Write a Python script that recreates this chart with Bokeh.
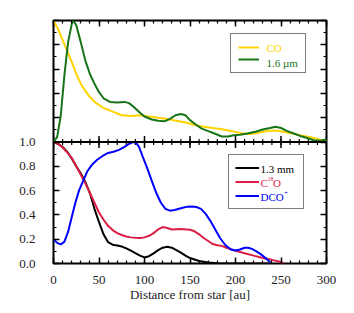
import math
from bokeh.plotting import figure
from bokeh.models import (Range1d, LinearAxis, Legend, LegendItem, Label, FixedTicker,
                          PrintfTickFormatter, Span)
from bokeh.embed import file_html
from bokeh.resources import INLINE

# ---- data ----
x_co = [0, 5, 10, 15, 20, 25, 30, 35, 40, 45, 55, 65, 75, 85, 95, 105, 115, 125, 135, 145,
        155, 165, 175, 185, 195, 205, 215, 225, 235, 245, 255, 265, 275, 285, 295, 300]
co = [1.0, 0.93, 0.84, 0.75, 0.66, 0.56, 0.48, 0.42, 0.37, 0.33, 0.28, 0.25, 0.22, 0.215, 0.22,
      0.21, 0.20, 0.19, 0.175, 0.16, 0.14, 0.125, 0.115, 0.105, 0.09, 0.075, 0.065, 0.075, 0.09,
      0.095, 0.08, 0.065, 0.05, 0.035, 0.015, 0.005]

x_h = [0, 4, 8, 12, 16, 20, 22, 25, 30, 35, 40, 45, 50, 55, 62, 70, 78, 83, 88, 95, 100, 108,
       115, 122, 128, 134, 140, 145, 150, 157, 163, 170, 177, 185, 192, 198, 205, 213, 222, 231,
       238, 244, 250, 257, 264, 271, 278, 286, 293, 300]
h = [0.0, 0.04, 0.22, 0.55, 0.82, 0.97, 1.0, 0.96, 0.82, 0.67, 0.56, 0.48, 0.41, 0.36, 0.33,
     0.325, 0.33, 0.32, 0.29, 0.24, 0.21, 0.185, 0.175, 0.17, 0.19, 0.22, 0.23, 0.22, 0.18, 0.14,
     0.11, 0.09, 0.07, 0.045, 0.045, 0.055, 0.06, 0.07, 0.085, 0.105, 0.115, 0.125, 0.115, 0.09,
     0.07, 0.05, 0.035, 0.015, 0.01, 0.02]

x_mm = [0, 5, 10, 15, 20, 25, 30, 35, 40, 45, 50, 55, 60, 65, 70, 75, 80, 85, 90, 95, 100, 105,
        110, 115, 120, 125, 130, 135, 140, 145, 150, 160, 170, 180, 200, 220, 240]
mm = [1.0, 0.985, 0.96, 0.92, 0.865, 0.8, 0.74, 0.67, 0.58, 0.45, 0.34, 0.24, 0.175, 0.155,
      0.148, 0.14, 0.125, 0.105, 0.085, 0.065, 0.05, 0.06, 0.083, 0.11, 0.13, 0.138, 0.13, 0.11,
      0.09, 0.065, 0.045, 0.02, 0.008, 0.003, 0.0, 0.0, 0.0]

x_c18o = [0, 5, 10, 15, 20, 25, 30, 35, 40, 45, 50, 55, 60, 65, 70, 75, 80, 85, 90, 95, 100,
          105, 110, 115, 120, 125, 130, 140, 150, 155, 160, 165, 170, 175, 180, 185, 190, 200,
          210, 220, 230, 240, 250, 253]
c18o = [1.0, 0.985, 0.955, 0.915, 0.87, 0.8, 0.73, 0.66, 0.58, 0.5, 0.42, 0.36, 0.31, 0.275,
        0.25, 0.235, 0.222, 0.215, 0.212, 0.21, 0.215, 0.228, 0.25, 0.28, 0.3, 0.292, 0.28,
        0.283, 0.278, 0.265, 0.24, 0.21, 0.185, 0.16, 0.15, 0.145, 0.13, 0.105, 0.085, 0.065,
        0.045, 0.03, 0.012, 0.0]

x_dco = [0, 4, 8, 12, 16, 20, 24, 28, 32, 37, 42, 48, 54, 60, 66, 72, 78, 82, 86, 88, 91, 94,
         98, 103, 108, 113, 118, 123, 128, 133, 140, 147, 152, 157, 162, 167, 172, 177, 183,
         189, 195, 200, 205, 210, 214, 218, 223, 228, 233, 238]
dco = [0.2, 0.17, 0.157, 0.18, 0.26, 0.38, 0.5, 0.6, 0.67, 0.757, 0.81, 0.854, 0.885, 0.91,
       0.92, 0.935, 0.96, 0.98, 0.995, 1.0, 0.99, 0.96, 0.88, 0.785, 0.68, 0.58, 0.5, 0.45,
       0.435, 0.44, 0.455, 0.468, 0.47, 0.465, 0.45, 0.41, 0.355, 0.29, 0.21, 0.15, 0.115,
       0.107, 0.115, 0.13, 0.13, 0.12, 0.1, 0.075, 0.045, 0.01]

# axis ticks: the lower panel spans 0..1, the upper panel sits on top of it (1..2)
x_ticks = [0, 50, 100, 150, 200, 250, 300]
x_minor = list(range(0, 301, 10))
y_ticks = [0.0, 0.2, 0.4, 0.6, 0.8, 1.0, 1.2, 1.4, 1.6, 1.8, 2.0]
y_labels = {0.0: "0.0", 0.2: "0.2", 0.4: "0.4", 0.6: "0.6", 0.8: "0.8", 1.0: "1.0",
            1.2: "", 1.4: "", 1.6: "", 1.8: "", 2.0: ""}
y_minor = [i / 10 for i in range(21)]

FONT = "Liberation Serif"
TXT = "#222222"
C_CO, C_H, C_MM, C_C18O, C_DCO = "#FFD200", "#177417", "#000000", "#DC1E46", "#0000FF"

FRAME_H = 243
p = figure(frame_width=273, frame_height=FRAME_H, output_backend="svg", toolbar_location=None,
           x_range=Range1d(0, 300), y_range=Range1d(0, 2),
           min_border_left=53, min_border_right=12, min_border_top=20, min_border_bottom=0)
p.extra_y_ranges = {"top": Range1d(-1, 1)}
p.xgrid.visible = False
p.ygrid.visible = False
p.outline_line_color = "black"
p.outline_line_width = 2
p.background_fill_color = "white"
p.border_fill_color = "white"
p.add_layout(LinearAxis(), "above")
p.add_layout(LinearAxis(), "right")

for ax in p.xaxis:
    ax.ticker = FixedTicker(ticks=x_ticks, minor_ticks=x_minor)
for ax in p.yaxis:
    ax.ticker = FixedTicker(ticks=y_ticks, minor_ticks=y_minor)
    ax.formatter = PrintfTickFormatter(format="%.1f")
for ax in p.axis:
    ax.major_tick_in = 6
    ax.major_tick_out = 0
    ax.minor_tick_in = 3
    ax.minor_tick_out = 0
    ax.major_tick_line_width = 1.5
    ax.minor_tick_line_width = 1.2
    ax.axis_line_color = None
    ax.major_label_standoff = 0
    ax.major_label_text_font = FONT
    ax.major_label_text_font_size = "13px"
    ax.major_label_text_color = TXT
    ax.axis_label_text_font = FONT
    ax.axis_label_text_font_style = "normal"
    ax.axis_label_text_font_size = "13px"
    ax.axis_label_text_color = TXT

p.above[0].major_label_overrides = {t: "" for t in x_ticks}
p.right[0].major_label_overrides = {t: "" for t in y_ticks}

ly = p.left[0]
ly.major_label_overrides = y_labels
ly.major_label_standoff = 18

bx = p.below[0]
bx.major_label_standoff = 12
bx.axis_label = "Distance from star [au]"
bx.axis_label_standoff = 0

# divider between the two panels, with ticks on both sides
p.add_layout(Span(location=1, dimension="width", line_color="black", line_width=2))
major_len = 6 * 2 / FRAME_H
minor_len = 3 * 2 / FRAME_H
p.segment(x0=x_minor, x1=x_minor, y0=[1 - minor_len] * len(x_minor),
          y1=[1 + minor_len] * len(x_minor), line_color="black", line_width=1.2)
p.segment(x0=x_ticks, x1=x_ticks, y0=[1 - major_len] * len(x_ticks),
          y1=[1 + major_len] * len(x_ticks), line_color="black", line_width=1.5)

# curves
r_co = p.line(x_co, co, line_color=C_CO, line_width=2, y_range_name="top")
r_h = p.line(x_h, h, line_color=C_H, line_width=2, y_range_name="top")
r_mm = p.line(x_mm, mm, line_color=C_MM, line_width=2)
r_c18o = p.line(x_c18o, c18o, line_color=C_C18O, line_width=2)
r_dco = p.line(x_dco, dco, line_color=C_DCO, line_width=2)


def make_legend(items, loc, pad, lh, sp, gw, so):
    return Legend(items=items, location=loc, padding=pad, margin=0, spacing=sp,
                  label_height=lh, glyph_height=lh, glyph_width=gw, label_standoff=so,
                  label_text_font=FONT, label_text_font_size="11px", label_text_alpha=0.0,
                  border_line_color="black", border_line_width=1.5,
                  background_fill_alpha=0.0)


p.add_layout(make_legend([LegendItem(label="CO", renderers=[r_co]),
                          LegendItem(label="1.6 µm", renderers=[r_h])],
                         (177, 190), 7, 12, 0, 21, 8), "center")
p.add_layout(make_legend([LegendItem(label="1.3 mm", renderers=[r_mm]),
                          LegendItem(label="C18O", renderers=[r_c18o]),
                          LegendItem(label="DCO+", renderers=[r_dco])],
                         (175, 54), 6, 13, 1, 24, 4), "center")


def lab(x, y, text, color, size="11px", xo=0, yo=0, angle=0.0, align="left"):
    p.add_layout(Label(x=x, y=y, text=text, text_color=color, text_font=FONT,
                       text_font_size=size, text_baseline="middle", text_align=align,
                       x_offset=xo, y_offset=yo, angle=angle, level="overlay"))


lab(234, 1.77, "CO", C_CO)
lab(234, 1.654, "1.6 µm", C_H)
lab(227.5, 0.778, "1.3 mm", C_MM)
lab(227.5, 0.663, "C", C_C18O)
lab(227.5, 0.663, "18", C_C18O, size="6px", xo=7, yo=4)
lab(227.5, 0.663, "O", C_C18O, xo=12.5)
lab(227.5, 0.547, "DCO", C_DCO)
lab(227.5, 0.547, "+", C_DCO, size="7px", xo=23.5, yo=4)

# y-axis title, centred on the lower panel
lab(0, 0.5, "Normalised flux", TXT, size="13px", xo=-45, angle=math.pi / 2, align="center")

open("out.html", "w").write(file_html(p, INLINE))
